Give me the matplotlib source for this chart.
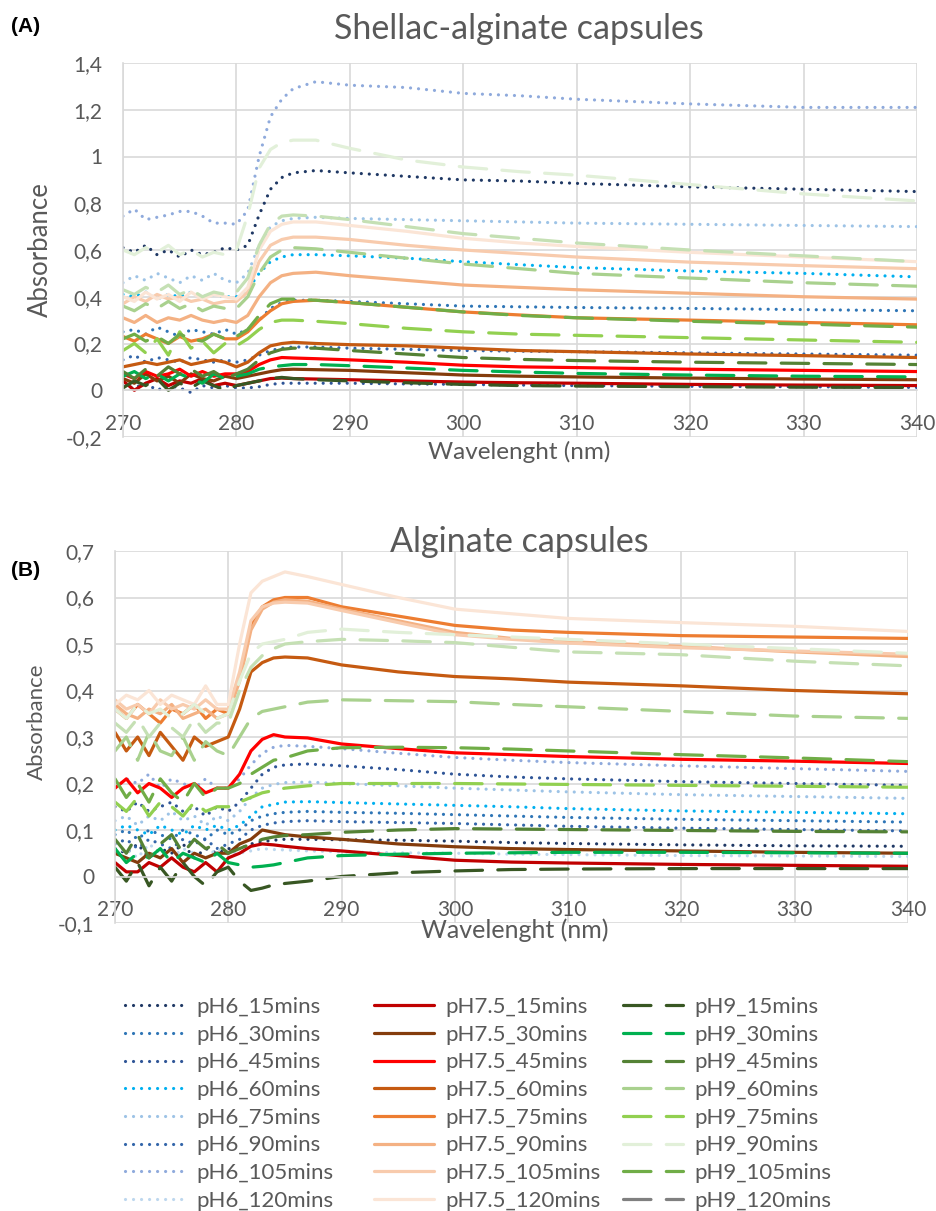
import matplotlib
matplotlib.use('Agg')
import matplotlib.pyplot as plt
from matplotlib.lines import Line2D

plt.rcParams['font.family'] = ['Lato', 'DejaVu Sans']

# wavelengths (nm) at which the spectra were read
W = [270, 271, 272, 273, 274, 275, 276, 277, 278, 279, 280, 281, 282, 283, 284, 285,
     287, 290, 295, 300, 305, 310, 320, 330, 340]

TIMES = ['15', '30', '45', '60', '75', '90', '105', '120']

# (A) Shellac-alginate capsules
A_PH6 = [
    [0.61, 0.59, 0.62, 0.58, 0.60, 0.57, 0.60, 0.58, 0.59, 0.61, 0.60, 0.62, 0.75, 0.86, 0.91, 0.93, 0.94, 0.93, 0.915, 0.90, 0.895, 0.885, 0.87, 0.86, 0.85],
    [0.25, 0.26, 0.24, 0.27, 0.25, 0.23, 0.26, 0.25, 0.24, 0.26, 0.24, 0.26, 0.30, 0.35, 0.375, 0.385, 0.385, 0.38, 0.37, 0.36, 0.357, 0.354, 0.35, 0.345, 0.34],
    [0.02, 0.01, 0.03, 0.00, 0.02, 0.01, -0.01, 0.02, 0.01, 0.02, 0.01, 0.01, 0.015, 0.025, 0.03, 0.03, 0.03, 0.03, 0.027, 0.025, 0.022, 0.02, 0.017, 0.015, 0.012],
    [0.41, 0.40, 0.42, 0.39, 0.41, 0.40, 0.42, 0.40, 0.41, 0.40, 0.40, 0.43, 0.50, 0.55, 0.57, 0.58, 0.58, 0.575, 0.565, 0.55, 0.537, 0.525, 0.51, 0.50, 0.485],
    [0.46, 0.49, 0.47, 0.50, 0.48, 0.46, 0.49, 0.47, 0.50, 0.47, 0.46, 0.50, 0.62, 0.70, 0.725, 0.735, 0.74, 0.735, 0.73, 0.725, 0.72, 0.715, 0.71, 0.705, 0.70],
    [0.13, 0.15, 0.12, 0.14, 0.13, 0.12, 0.14, 0.13, 0.12, 0.13, 0.12, 0.13, 0.15, 0.17, 0.18, 0.185, 0.185, 0.18, 0.175, 0.17, 0.167, 0.165, 0.16, 0.155, 0.15],
    [0.745, 0.775, 0.73, 0.74, 0.75, 0.765, 0.765, 0.745, 0.715, 0.715, 0.71, 0.77, 1.0, 1.17, 1.245, 1.29, 1.32, 1.305, 1.295, 1.27, 1.26, 1.245, 1.225, 1.21, 1.21],
    None,
]
A_PH75 = [
    [0.04, 0.00, 0.03, 0.05, 0.02, 0.04, 0.03, 0.05, 0.02, 0.03, 0.02, 0.03, 0.04, 0.05, 0.052, 0.05, 0.048, 0.045, 0.04, 0.035, 0.032, 0.03, 0.025, 0.022, 0.02],
    [0.05, 0.03, 0.07, 0.04, 0.06, 0.03, 0.07, 0.05, 0.04, 0.06, 0.05, 0.06, 0.07, 0.08, 0.088, 0.09, 0.088, 0.085, 0.075, 0.065, 0.06, 0.057, 0.052, 0.048, 0.045],
    [0.07, 0.05, 0.08, 0.06, 0.07, 0.09, 0.06, 0.08, 0.06, 0.07, 0.07, 0.08, 0.11, 0.13, 0.14, 0.138, 0.135, 0.13, 0.12, 0.107, 0.10, 0.097, 0.09, 0.085, 0.08],
    [0.10, 0.11, 0.12, 0.11, 0.12, 0.13, 0.11, 0.12, 0.13, 0.12, 0.10, 0.12, 0.16, 0.19, 0.20, 0.205, 0.20, 0.195, 0.19, 0.18, 0.17, 0.165, 0.155, 0.148, 0.14],
    [0.23, 0.21, 0.24, 0.22, 0.20, 0.23, 0.21, 0.22, 0.24, 0.22, 0.22, 0.25, 0.30, 0.34, 0.37, 0.38, 0.385, 0.375, 0.355, 0.335, 0.322, 0.31, 0.30, 0.29, 0.28],
    [0.31, 0.29, 0.32, 0.29, 0.31, 0.30, 0.32, 0.30, 0.29, 0.30, 0.29, 0.32, 0.40, 0.46, 0.49, 0.50, 0.505, 0.49, 0.47, 0.45, 0.44, 0.43, 0.415, 0.40, 0.39],
    [0.37, 0.40, 0.38, 0.41, 0.39, 0.40, 0.38, 0.39, 0.37, 0.38, 0.38, 0.42, 0.55, 0.62, 0.645, 0.655, 0.655, 0.645, 0.62, 0.60, 0.585, 0.57, 0.548, 0.533, 0.52],
    [0.40, 0.38, 0.42, 0.39, 0.41, 0.38, 0.42, 0.39, 0.41, 0.40, 0.39, 0.44, 0.60, 0.68, 0.71, 0.72, 0.72, 0.705, 0.68, 0.65, 0.63, 0.615, 0.59, 0.57, 0.55],
]
A_PH9 = [
    [0.01, 0.04, 0.02, 0.05, 0.00, 0.03, 0.01, 0.04, 0.02, 0.00, 0.02, 0.03, 0.04, 0.05, 0.055, 0.05, 0.045, 0.04, 0.032, 0.025, 0.02, 0.018, 0.015, 0.013, 0.012],
    [0.06, 0.08, 0.05, 0.07, 0.04, 0.07, 0.05, 0.03, 0.07, 0.05, 0.06, 0.07, 0.09, 0.10, 0.105, 0.11, 0.11, 0.105, 0.095, 0.085, 0.078, 0.072, 0.065, 0.06, 0.057],
    [0.08, 0.05, 0.09, 0.06, 0.10, 0.07, 0.09, 0.06, 0.08, 0.05, 0.07, 0.09, 0.13, 0.16, 0.175, 0.18, 0.18, 0.17, 0.155, 0.14, 0.132, 0.127, 0.12, 0.115, 0.11],
    [0.36, 0.34, 0.37, 0.35, 0.38, 0.35, 0.37, 0.34, 0.36, 0.35, 0.35, 0.40, 0.50, 0.57, 0.60, 0.61, 0.605, 0.59, 0.565, 0.54, 0.52, 0.50, 0.48, 0.46, 0.445],
    [0.17, 0.20, 0.16, 0.22, 0.15, 0.25, 0.18, 0.21, 0.16, 0.20, 0.19, 0.22, 0.26, 0.29, 0.30, 0.30, 0.295, 0.285, 0.265, 0.25, 0.24, 0.235, 0.225, 0.215, 0.205],
    [0.60, 0.58, 0.61, 0.59, 0.62, 0.58, 0.60, 0.57, 0.59, 0.58, 0.60, 0.75, 0.95, 1.03, 1.06, 1.07, 1.07, 1.035, 0.985, 0.955, 0.935, 0.92, 0.88, 0.84, 0.81],
    [0.22, 0.24, 0.21, 0.23, 0.20, 0.24, 0.22, 0.21, 0.24, 0.22, 0.23, 0.26, 0.32, 0.37, 0.39, 0.39, 0.385, 0.375, 0.355, 0.335, 0.32, 0.31, 0.295, 0.283, 0.27],
    [0.43, 0.41, 0.44, 0.42, 0.45, 0.41, 0.43, 0.40, 0.42, 0.41, 0.42, 0.48, 0.62, 0.71, 0.745, 0.75, 0.745, 0.73, 0.70, 0.67, 0.65, 0.63, 0.60, 0.575, 0.55],
]

# (B) Alginate capsules
B_PH6 = [
    [0.06, 0.05, 0.07, 0.04, 0.06, 0.05, 0.07, 0.04, 0.06, 0.05, 0.06, 0.06, 0.07, 0.075, 0.078, 0.08, 0.08, 0.079, 0.078, 0.076, 0.073, 0.071, 0.068, 0.066, 0.065],
    [0.09, 0.10, 0.08, 0.10, 0.09, 0.08, 0.10, 0.09, 0.08, 0.10, 0.09, 0.10, 0.12, 0.13, 0.135, 0.138, 0.14, 0.138, 0.136, 0.133, 0.13, 0.127, 0.123, 0.12, 0.117],
    [0.15, 0.14, 0.16, 0.14, 0.15, 0.16, 0.14, 0.15, 0.13, 0.15, 0.14, 0.16, 0.19, 0.22, 0.235, 0.24, 0.242, 0.238, 0.23, 0.22, 0.214, 0.21, 0.204, 0.20, 0.196],
    [0.10, 0.11, 0.10, 0.09, 0.11, 0.10, 0.09, 0.11, 0.10, 0.11, 0.10, 0.11, 0.13, 0.15, 0.155, 0.16, 0.161, 0.159, 0.156, 0.153, 0.15, 0.146, 0.141, 0.138, 0.135],
    [0.12, 0.13, 0.11, 0.13, 0.12, 0.14, 0.12, 0.13, 0.11, 0.13, 0.12, 0.14, 0.17, 0.19, 0.198, 0.202, 0.203, 0.20, 0.195, 0.19, 0.186, 0.182, 0.176, 0.172, 0.168],
    [0.07, 0.08, 0.06, 0.08, 0.07, 0.06, 0.08, 0.07, 0.08, 0.06, 0.07, 0.08, 0.10, 0.11, 0.115, 0.118, 0.12, 0.118, 0.116, 0.114, 0.111, 0.108, 0.104, 0.101, 0.098],
    [0.19, 0.21, 0.20, 0.22, 0.19, 0.21, 0.20, 0.19, 0.21, 0.19, 0.19, 0.21, 0.24, 0.265, 0.278, 0.282, 0.28, 0.275, 0.265, 0.256, 0.25, 0.245, 0.238, 0.232, 0.226],
    [0.05, 0.06, 0.04, 0.07, 0.05, 0.04, 0.06, 0.05, 0.04, 0.06, 0.05, 0.05, 0.055, 0.06, 0.058, 0.057, 0.055, 0.053, 0.051, 0.05, 0.048, 0.047, 0.045, 0.044, 0.043],
]
B_PH75 = [
    [0.03, 0.01, 0.01, 0.03, 0.02, 0.04, 0.02, 0.01, 0.03, 0.01, 0.04, 0.05, 0.065, 0.07, 0.068, 0.065, 0.06, 0.055, 0.045, 0.035, 0.031, 0.029, 0.026, 0.024, 0.022],
    [0.05, 0.04, 0.03, 0.05, 0.04, 0.06, 0.03, 0.05, 0.04, 0.05, 0.05, 0.07, 0.08, 0.10, 0.095, 0.09, 0.085, 0.08, 0.07, 0.064, 0.06, 0.058, 0.055, 0.052, 0.05],
    [0.19, 0.21, 0.18, 0.20, 0.19, 0.17, 0.19, 0.20, 0.18, 0.19, 0.19, 0.22, 0.27, 0.295, 0.305, 0.30, 0.298, 0.285, 0.275, 0.266, 0.262, 0.258, 0.252, 0.248, 0.243],
    [0.31, 0.27, 0.30, 0.26, 0.31, 0.28, 0.25, 0.30, 0.28, 0.29, 0.30, 0.36, 0.44, 0.46, 0.47, 0.472, 0.47, 0.455, 0.44, 0.43, 0.425, 0.418, 0.41, 0.40, 0.393],
    [0.36, 0.34, 0.37, 0.35, 0.33, 0.36, 0.35, 0.37, 0.34, 0.36, 0.35, 0.43, 0.54, 0.58, 0.595, 0.60, 0.60, 0.58, 0.56, 0.54, 0.53, 0.525, 0.518, 0.515, 0.512],
    [0.37, 0.35, 0.34, 0.36, 0.35, 0.37, 0.34, 0.35, 0.36, 0.34, 0.35, 0.42, 0.53, 0.575, 0.59, 0.595, 0.592, 0.575, 0.55, 0.525, 0.512, 0.505, 0.495, 0.483, 0.473],
    [0.38, 0.36, 0.37, 0.35, 0.38, 0.36, 0.37, 0.36, 0.38, 0.36, 0.36, 0.44, 0.55, 0.58, 0.588, 0.59, 0.588, 0.572, 0.546, 0.52, 0.51, 0.502, 0.492, 0.485, 0.478],
    [0.37, 0.39, 0.38, 0.40, 0.37, 0.39, 0.38, 0.37, 0.41, 0.37, 0.37, 0.50, 0.61, 0.635, 0.645, 0.655, 0.645, 0.628, 0.60, 0.575, 0.565, 0.555, 0.546, 0.538, 0.527],
]
B_PH9 = [
    [0.02, -0.01, 0.03, -0.02, 0.02, -0.01, 0.03, 0.00, -0.02, 0.01, 0.02, -0.01, -0.03, -0.025, -0.018, -0.015, -0.01, 0.0, 0.008, 0.012, 0.015, 0.016, 0.017, 0.017, 0.017],
    [0.06, 0.03, 0.05, 0.04, 0.06, 0.03, 0.05, 0.04, 0.03, 0.05, 0.03, 0.025, 0.02, 0.022, 0.025, 0.03, 0.04, 0.045, 0.048, 0.05, 0.051, 0.052, 0.052, 0.051, 0.05],
    [0.08, 0.05, 0.09, 0.04, 0.07, 0.09, 0.05, 0.08, 0.06, 0.07, 0.05, 0.06, 0.07, 0.08, 0.085, 0.088, 0.09, 0.095, 0.10, 0.103, 0.102, 0.101, 0.099, 0.097, 0.096],
    [0.27, 0.30, 0.25, 0.31, 0.27, 0.26, 0.30, 0.25, 0.29, 0.27, 0.26, 0.30, 0.34, 0.355, 0.36, 0.365, 0.375, 0.38, 0.378, 0.376, 0.37, 0.365, 0.355, 0.345, 0.34],
    [0.16, 0.14, 0.17, 0.13, 0.16, 0.15, 0.13, 0.16, 0.14, 0.15, 0.15, 0.16, 0.17, 0.18, 0.185, 0.19, 0.195, 0.20, 0.20, 0.20, 0.199, 0.198, 0.196, 0.194, 0.192],
    [0.36, 0.34, 0.37, 0.35, 0.36, 0.34, 0.35, 0.37, 0.35, 0.34, 0.35, 0.42, 0.48, 0.50, 0.505, 0.51, 0.525, 0.532, 0.525, 0.52, 0.515, 0.51, 0.50, 0.49, 0.48],
    [0.21, 0.17, 0.20, 0.16, 0.21, 0.18, 0.16, 0.20, 0.17, 0.19, 0.19, 0.20, 0.22, 0.235, 0.25, 0.255, 0.27, 0.277, 0.278, 0.277, 0.274, 0.27, 0.262, 0.255, 0.247],
    [0.33, 0.31, 0.34, 0.30, 0.33, 0.32, 0.30, 0.34, 0.31, 0.33, 0.33, 0.40, 0.45, 0.475, 0.49, 0.50, 0.505, 0.51, 0.507, 0.503, 0.493, 0.483, 0.477, 0.463, 0.453],
]

PH6_COLORS = ['#1F3864', '#2E75B6', '#2F5597', '#00B0F0', '#9DC3E6', '#3366AA', '#8FAADC', '#BDD7EE']
PH75_COLORS = ['#C00000', '#843C0C', '#FF0000', '#C55A11', '#ED7D31', '#F4B183', '#F8CBAD', '#FBE5D6']
PH9_COLORS = ['#385723', '#00B050', '#548235', '#A9D18E', '#92D050', '#E2F0D9', '#70AD47', '#C5E0B4']
PH9_LEGEND_COLORS = PH9_COLORS[:7] + ['#808080']

DOT = dict(ls=(0, (0.01, 2.5)), lw=2.3, dash_capstyle='round')
SOLID = dict(ls='-', lw=2.3, solid_capstyle='round')
DASH = dict(ls=(0, (8.6, 4.8)), lw=2.3, dash_capstyle='round')

GRID = '#D9D9D9'
TXT = '#595959'


def draw_panel(ax, ph6, ph75, ph9, ylim, yticks):
    for data, colors, style in [(ph6, PH6_COLORS, DOT), (ph75, PH75_COLORS, SOLID),
                                (ph9, PH9_COLORS, DASH)]:
        for vals, c in zip(data, colors):
            if vals is None:
                continue
            ax.plot(W, vals, color=c, **style)
    ax.set_xlim(270, 340)
    ax.set_ylim(*ylim)
    ax.set_xticks(range(270, 341, 10))
    ax.set_yticks(yticks)
    ax.set_yticklabels([('%g' % v).replace('.', ',') for v in yticks])
    ax.grid(True, color=GRID, lw=1.2)
    ax.set_axisbelow(True)
    for s in ['top', 'right']:
        ax.spines[s].set_visible(False)
    ax.spines['left'].set_color(GRID)
    ax.spines['left'].set_linewidth(1.2)
    ax.spines['bottom'].set_position(('data', 0))
    ax.spines['bottom'].set_color(GRID)
    ax.spines['bottom'].set_linewidth(1.2)
    ax.tick_params(length=0, labelsize=15, colors=TXT)
    ax.tick_params(axis='y', pad=15)
    ax.tick_params(axis='x', pad=17)


fig = plt.figure(figsize=(9.36, 12.11), dpi=100)
H = 1211.0
Wd = 936.0

axA = fig.add_axes([123 / Wd, 1 - 437 / H, 794 / Wd, 374 / H])
draw_panel(axA, A_PH6, A_PH75, A_PH9, (-0.2, 1.4), [-0.2, 0, 0.2, 0.4, 0.6, 0.8, 1.0, 1.2, 1.4])
axB = fig.add_axes([115 / Wd, 1 - 923 / H, 793 / Wd, 372 / H])
draw_panel(axB, B_PH6, B_PH75, B_PH9, (-0.1, 0.7), [-0.1, 0, 0.1, 0.2, 0.3, 0.4, 0.5, 0.6, 0.7])

# titles, axis labels, panel letters
fig.text(519 / Wd, 1 - 39 / H, 'Shellac-alginate capsules', ha='center', va='baseline',
         fontsize=24.5, color=TXT)
fig.text(519 / Wd, 1 - 552 / H, 'Alginate capsules', ha='center', va='baseline',
         fontsize=24.5, color=TXT)
fig.text(519 / Wd, 1 - 452 / H, 'Wavelenght (nm)', ha='center', va='center', fontsize=17.5, color=TXT)
fig.text(515 / Wd, 1 - 930 / H, 'Wavelenght (nm)', ha='center', va='center', fontsize=18, color=TXT)
fig.text(40 / Wd, 1 - 250 / H, 'Absorbance', ha='center', va='center', rotation=90,
         fontsize=18.5, color=TXT)
fig.text(37 / Wd, 1 - 722 / H, 'Absorbance', ha='center', va='center', rotation=90,
         fontsize=16, color=TXT)
fig.text(11 / Wd, 1 - 27 / H, '(A)', ha='left', va='center', fontsize=15, fontweight='bold',
         family='Liberation Sans', color='black')
fig.text(11 / Wd, 1 - 570 / H, '(B)', ha='left', va='center', fontsize=15, fontweight='bold',
         family='Liberation Sans', color='black')

# legend: three columns, one per pH
groups = [('pH6', PH6_COLORS, DOT, 125), ('pH7.5', PH75_COLORS, SOLID, 374),
          ('pH9', PH9_LEGEND_COLORS, DASH, 623)]
for name, colors, style, x0 in groups:
    handles = [Line2D([], [], color=c, **style) for c in colors]
    labels = ['%s_%smins' % (name, t) for t in TIMES]
    fig.legend(handles, labels, loc='upper left', bbox_to_anchor=(x0 / Wd, 1 - 997 / H),
               frameon=False, fontsize=16, labelcolor=TXT, handlelength=2.7,
               handletextpad=0.5, labelspacing=0.345, borderpad=0, borderaxespad=0)

fig.savefig('out.png', dpi=100)
